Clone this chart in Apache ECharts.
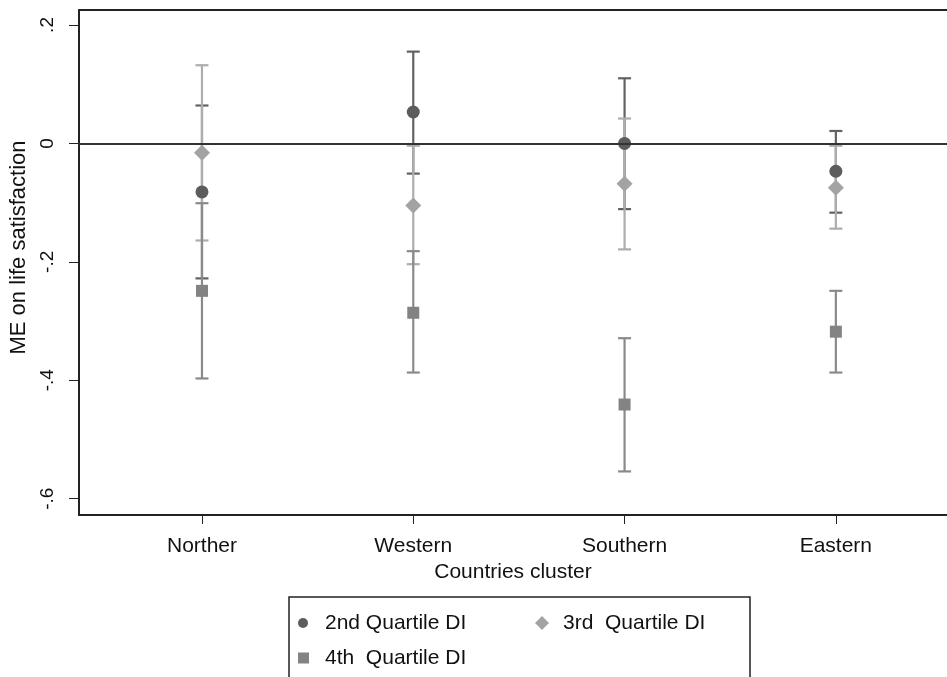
<!DOCTYPE html>
<html>
<head>
<meta charset="utf-8">
<script src="https://cdn.jsdelivr.net/npm/echarts@6/dist/echarts.min.js"></script>
<style>
html,body{margin:0;padding:0;background:#fff;}
#chart{width:947px;height:677px;}
</style>
</head>
<body>
<div id="chart"></div>
<script>
// ---- data ----
const categories = ['Norther', 'Western', 'Southern', 'Eastern'];
const seriesNames = ['2nd Quartile DI', '3rd  Quartile DI', '4th  Quartile DI'];

const q2Est = [-0.082, 0.053, 0.000, -0.047];
const q2Lo  = [-0.228, -0.051, -0.111, -0.117];
const q2Hi  = [0.064, 0.155, 0.110, 0.021];

const q3Est = [-0.016, -0.105, -0.068, -0.075];
const q3Lo  = [-0.164, -0.204, -0.179, -0.144];
const q3Hi  = [0.132, -0.004, 0.042, -0.004];

const q4Est = [-0.249, -0.286, -0.441, -0.318];
const q4Lo  = [-0.397, -0.387, -0.554, -0.387];
const q4Hi  = [-0.101, -0.182, -0.329, -0.249];

const yTicks = [-0.6, -0.4, -0.2, 0, 0.2];
const yTickLabels = ['-.6', '-.4', '-.2', '0', '.2'];
const refLine = 0;

// ---- build ----
const xPos = categories.map((c, i) => i + 1);
const FONT = "'Liberation Sans', Arial, Helvetica, sans-serif";

function ciData(lo, hi) { return xPos.map((x, i) => [x, lo[i], hi[i]]); }
function ptData(est) { return xPos.map((x, i) => [x, est[i]]); }

function errRenderer(color) {
  return function (params, api) {
    const x = api.value(0);
    const pl = api.coord([x, api.value(1)]);
    const ph = api.coord([x, api.value(2)]);
    const half = 6.5;
    const st = { stroke: color, lineWidth: 2.2 };
    return {
      type: 'group',
      children: [
        { type: 'line', shape: { x1: pl[0], y1: pl[1], x2: ph[0], y2: ph[1] }, style: st },
        { type: 'line', shape: { x1: pl[0] - half, y1: pl[1], x2: pl[0] + half, y2: pl[1] }, style: st },
        { type: 'line', shape: { x1: ph[0] - half, y1: ph[1], x2: ph[0] + half, y2: ph[1] }, style: st }
      ]
    };
  };
}

const c2 = '#5c5c5c', c3 = '#a3a3a3', c4 = '#838383';
const l2 = '#626262', l3 = '#adadad', l4 = '#8a8a8a';

const chart = echarts.init(document.getElementById('chart'), null, { renderer: 'canvas' });

function legendText(padLeft) {
  return { fontSize: 21, color: '#111', fontFamily: FONT, lineHeight: 24, padding: [0, 0, 0, padLeft] };
}

const xMin = 0.418, xMax = 4.526;

chart.setOption({
  animation: false,
  backgroundColor: '#fff',
  grid: { left: 79, top: 10, bottom: 162, right: 0, show: false },
  xAxis: [{
    type: 'value', min: xMin, max: xMax,
    axisLine: { show: true, onZero: false, lineStyle: { color: '#222', width: 2 } },
    axisTick: { show: true, customValues: xPos, length: 9, lineStyle: { color: '#222', width: 1 } },
    axisLabel: {
      customValues: xPos, formatter: v => categories[Math.round(v) - 1],
      fontSize: 21, color: '#111', fontFamily: FONT, margin: 21
    },
    splitLine: { show: false },
    name: 'Countries cluster', nameLocation: 'middle', nameGap: 45,
    nameTextStyle: { fontSize: 21, color: '#111', fontFamily: FONT }
  }, {
    type: 'value', position: 'top', min: xMin, max: xMax,
    axisLine: { show: true, onZero: false, lineStyle: { color: '#222', width: 2 } },
    axisTick: { show: false }, axisLabel: { show: false }, splitLine: { show: false }
  }],
  yAxis: {
    type: 'value', min: -0.6276, max: 0.2253,
    axisLine: { show: true, onZero: false, lineStyle: { color: '#222', width: 2 } },
    axisTick: { show: true, customValues: yTicks, length: 10, lineStyle: { color: '#222', width: 1 } },
    axisLabel: {
      customValues: yTicks, rotate: 90,
      formatter: v => { const i = yTicks.findIndex(t => Math.abs(t - v) < 1e-6); return i >= 0 ? yTickLabels[i] : ''; },
      fontSize: 19, color: '#111', fontFamily: FONT, margin: 22
    },
    splitLine: { show: false },
    name: 'ME on life satisfaction', nameLocation: 'middle', nameGap: 38, nameRotate: 90,
    nameTextStyle: { fontSize: 22, color: '#111', fontFamily: FONT, padding: [0, 0, 0, 30] }
  },
  graphic: [{
    type: 'rect', z: 0, silent: true,
    shape: { x: 289, y: 597, width: 461, height: 120 },
    style: { fill: '#fff', stroke: '#222', lineWidth: 1.5 }
  }],
  legend: [
    { data: [seriesNames[0]], left: 298, top: 611, padding: 0, itemWidth: 10, itemHeight: 10, textStyle: legendText(12) },
    { data: [seriesNames[1]], left: 535, top: 611, padding: 0, itemWidth: 14, itemHeight: 14, textStyle: legendText(9) },
    { data: [seriesNames[2]], left: 298, top: 646, padding: 0, itemWidth: 11, itemHeight: 11, textStyle: legendText(11) }
  ],
  series: [
    { type: 'custom', name: 'ci2', renderItem: errRenderer(l2), data: ciData(q2Lo, q2Hi), z: 2, silent: true },
    { type: 'custom', name: 'ci3', renderItem: errRenderer(l3), data: ciData(q3Lo, q3Hi), z: 2, silent: true },
    { type: 'custom', name: 'ci4', renderItem: errRenderer(l4), data: ciData(q4Lo, q4Hi), z: 2, silent: true,
      markLine: { silent: true, symbol: 'none', label: { show: false },
        lineStyle: { color: '#333', width: 2, type: 'solid' }, data: [{ yAxis: refLine }] } },
    { type: 'scatter', name: seriesNames[0], symbol: 'circle', symbolSize: 13, itemStyle: { color: c2, opacity: 1 }, data: ptData(q2Est), z: 4 },
    { type: 'scatter', name: seriesNames[1], symbol: 'diamond', symbolSize: [16, 16], itemStyle: { color: c3, opacity: 1 }, data: ptData(q3Est), z: 4 },
    { type: 'scatter', name: seriesNames[2], symbol: 'rect', symbolSize: 12, itemStyle: { color: c4, opacity: 1 }, data: ptData(q4Est), z: 4 }
  ]
});
</script>
</body>
</html>
